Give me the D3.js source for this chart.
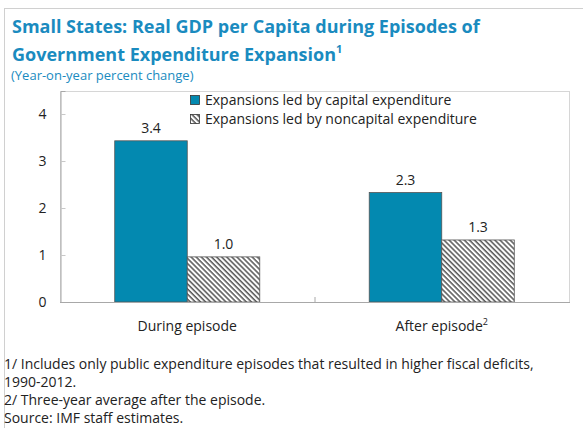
<!DOCTYPE html>
<html>
<head>
<meta charset="utf-8">
<script src="https://d3js.org/d3.v7.min.js"></script>
<style>
  body { margin: 0; background: #fff; }
  text { font-family: "Open Sans", "Noto Sans", sans-serif; }
</style>
</head>
<body>
<svg width="583" height="428"></svg>
<script>
// data
var categories = ["During episode", "After episode"];
var seriesNames = ["Expansions led by capital expenditure", "Expansions led by noncapital expenditure"];
var capital = [3.43, 2.33];
var noncapital = [0.96, 1.32];
var yTicks = [0, 1, 2, 3, 4];

var footnotes = [
  "1/ Includes only public expenditure episodes that resulted in higher fiscal deficits,",
  "1990-2012.",
  "2/ Three-year average after the episode.",
  "Source: IMF staff estimates."
];

var teal = "#0389b0";
var titleColor = "#1a8bbf";

var svg = d3.select("svg");

// outer frame
svg.append("rect")
  .attr("x", 4.5).attr("y", 8.5)
  .attr("width", 600).attr("height", 440)
  .attr("fill", "none").attr("stroke", "#d0d0d0");

// hatch pattern
var defs = svg.append("defs");
defs.append("pattern")
  .attr("id", "hatch")
  .attr("patternUnits", "userSpaceOnUse")
  .attr("width", 3.6).attr("height", 3.6)
  .attr("patternTransform", "rotate(-45)")
  .call(function(p) {
    p.append("rect").attr("width", 3.6).attr("height", 3.6).attr("fill", "#fff");
    p.append("line").attr("x1", 1).attr("y1", 0).attr("x2", 1).attr("y2", 3.6)
      .attr("stroke", "#3a3a3a").attr("stroke-width", 1.3);
  });

// titles
var title = svg.append("text")
  .attr("fill", titleColor)
  .style("font-weight", "bold")
  .style("font-size", "18px");
title.append("tspan").attr("x", 12).attr("y", 33)
  .text("Small States: Real GDP per Capita during Episodes of");
title.append("tspan").attr("x", 12).attr("y", 61)
  .text("Government Expenditure Expansion");
title.append("tspan").attr("dy", -8).style("font-size", "11px").text("1");

svg.append("text")
  .attr("x", 11).attr("y", 80)
  .attr("fill", titleColor)
  .style("font-size", "13px")
  .text("(Year-on-year percent change)");

// plot area
var plotL = 60, plotR = 569, plotT = 91, plotB = 302;

var x = d3.scaleBand().domain(categories).range([plotL, plotR]);
var xs = d3.scaleBand().domain([0, 1]).range([0, x.bandwidth()]).paddingInner(0).paddingOuter(0.7547);
var y = d3.scaleLinear().domain([0, 4.49]).range([plotB, plotT]);

svg.append("rect")
  .attr("x", plotL + 0.5).attr("y", plotT + 0.5)
  .attr("width", plotR - plotL).attr("height", plotB - plotT)
  .attr("fill", "none").attr("stroke", "#d6d6d6");

// y axis
var yAxis = d3.axisLeft(y).tickValues(yTicks).tickSize(-5).tickPadding(14).tickFormat(d3.format("d"));
var gy = svg.append("g").attr("transform", "translate(" + (plotL + 0.5) + ",0)").call(yAxis);
gy.select(".domain").attr("stroke", "#a8a8a8");
gy.selectAll(".tick line").attr("stroke", "#c8c8c8");
gy.selectAll(".tick text").style("font-size", "14px").attr("fill", "#222")
  .style("font-family", "'Open Sans', sans-serif");

// bars
var rows = categories.map(function(c, i) { return { cat: c, vals: [capital[i], noncapital[i]] }; });
var groups = svg.selectAll(".grp").data(rows).enter().append("g")
  .attr("transform", function(d) { return "translate(" + x(d.cat) + ",0)"; });

groups.selectAll("rect").data(function(d) { return d.vals; }).enter().append("rect")
  .attr("x", function(d, i) { return xs(i); })
  .attr("y", function(d) { return y(d); })
  .attr("width", xs.bandwidth())
  .attr("height", function(d) { return y(0) - y(d); })
  .attr("fill", function(d, i) { return i === 0 ? teal : "url(#hatch)"; })
  .attr("stroke", "#555").attr("stroke-width", 0.8);

groups.selectAll(".lbl").data(function(d) { return d.vals; }).enter().append("text")
  .attr("x", function(d, i) { return xs(i) + xs.bandwidth() / 2; })
  .attr("y", function(d) { return y(d) - 8; })
  .attr("text-anchor", "middle")
  .style("font-size", "14px").attr("fill", "#222")
  .text(function(d) { return d3.format(".1f")(d); });

// x axis
svg.append("line").attr("x1", plotL).attr("x2", plotR + 1)
  .attr("y1", plotB + 0.5).attr("y2", plotB + 0.5)
  .attr("stroke", "#a8a8a8");
svg.append("line").attr("x1", x(categories[1]) + 0.5).attr("x2", x(categories[1]) + 0.5)
  .attr("y1", plotB).attr("y2", plotB - 5).attr("stroke", "#a8a8a8");

var catLabels = svg.selectAll(".cat").data(categories).enter().append("text")
  .attr("x", function(d) { return x(d) + x.bandwidth() / 2; })
  .attr("y", 331)
  .attr("text-anchor", "middle")
  .style("font-size", "14px").attr("fill", "#222");
catLabels.append("tspan").text(function(d) { return d; });
catLabels.filter(function(d, i) { return i === 1; })
  .append("tspan").attr("dy", -6).style("font-size", "9px").text("2");

// legend
var legend = svg.selectAll(".leg").data(seriesNames).enter().append("g")
  .attr("transform", function(d, i) { return "translate(190," + (95 + i * 19) + ")"; });
legend.append("rect").attr("width", 9).attr("height", 9)
  .attr("x", 0.5).attr("y", 0.5)
  .attr("fill", function(d, i) { return i === 0 ? teal : "url(#hatch)"; })
  .attr("stroke", "#333").attr("stroke-width", 0.8);
legend.append("text").attr("x", 15).attr("y", 10)
  .style("font-size", "14px").attr("fill", "#222")
  .text(function(d) { return d; });

// footnotes
svg.selectAll(".fn").data(footnotes).enter().append("text")
  .attr("x", 4).attr("y", function(d, i) { return 369 + i * 18; })
  .style("font-size", "14px").attr("fill", "#222")
  .text(function(d) { return d; });
</script>
</body>
</html>
